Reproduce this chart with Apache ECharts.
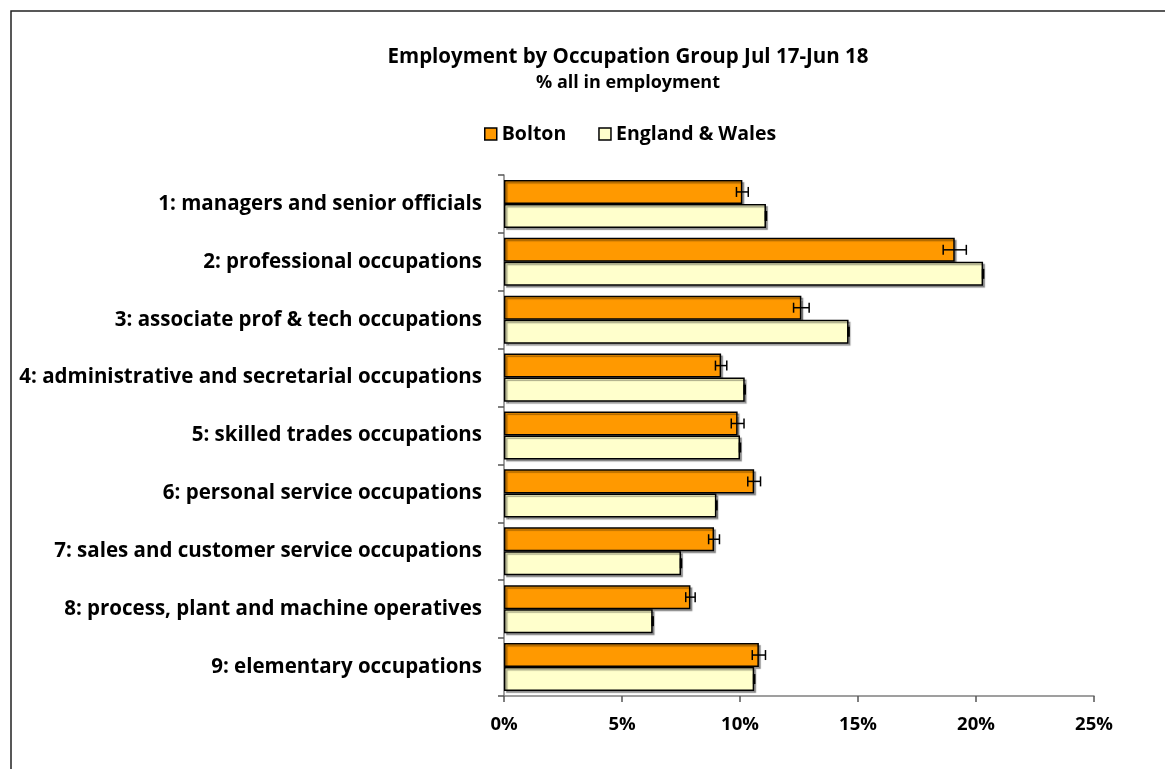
<!DOCTYPE html>
<html>
<head>
<meta charset="utf-8">
<script src="https://cdn.jsdelivr.net/npm/echarts@6/dist/echarts.min.js"></script>
<style>
html, body { margin: 0; padding: 0; background: #fff; }
#main { width: 1165px; height: 769px; }
</style>
</head>
<body>
<div id="main"></div>
<script>
var cats = [
	'1: managers and senior officials',
	'2: professional occupations',
	'3: associate prof & tech occupations',
	'4: administrative and secretarial occupations',
	'5: skilled trades occupations',
	'6: personal service occupations',
	'7: sales and customer service occupations',
	'8: process, plant and machine operatives',
	'9: elementary occupations'
];
var bolton = [10.1, 19.1, 12.6, 9.2, 9.9, 10.6, 8.9, 7.9, 10.8];
var boltonErr = [0.25, 0.49, 0.33, 0.24, 0.27, 0.27, 0.23, 0.2, 0.28];
var england = [11.1, 20.3, 14.6, 10.2, 10.0, 9.0, 7.5, 6.3, 10.6];
var xTicks = ['0%', '5%', '10%', '15%', '20%', '25%'];

var myChart = echarts.init(document.getElementById('main'));
var fnt = 'Open Sans';
var bandGap = 0.17;

//error bar drawing, idx 0 = Bolton (top bar), 1 = England & Wales
function errItem(which) {
	return function(params, api) {
		var v = api.value(1);
		var e = api.value(2);
		var c = api.coord([v, api.value(0)]);
		var band = api.size([0, 1])[1];
		var bw = band * (1 - bandGap) / 2;
		var y = which == 0 ? c[1] - bw / 2 : c[1] + bw / 2;
		var lo = api.coord([v - e, api.value(0)])[0];
		var hi = api.coord([v + e, api.value(0)])[0];
		var h = 5;
		if (which == 1) {
			return {
				type: 'line',
				shape: { x1: c[0], y1: y - 5, x2: c[0], y2: y + 5 },
				style: { stroke: '#000', lineWidth: 2.5 }
			};
		}
		return {
			type: 'group',
			children: [
				{ type: 'line', shape: { x1: lo, y1: y, x2: hi, y2: y }, style: { stroke: '#000', lineWidth: 1.5 } },
				{ type: 'line', shape: { x1: lo, y1: y - h, x2: lo, y2: y + h }, style: { stroke: '#000', lineWidth: 1.5 } },
				{ type: 'line', shape: { x1: hi, y1: y - h, x2: hi, y2: y + h }, style: { stroke: '#000', lineWidth: 1.5 } }
			]
		};
	};
}

var barShadow = {
	borderColor: '#000',
	borderWidth: 1.5,
	shadowColor: 'rgba(0,0,0,0.35)',
	shadowOffsetX: 2,
	shadowOffsetY: 2,
	shadowBlur: 1
};

option = {
	animation: false,
	backgroundColor: '#fff',
	textStyle: { fontFamily: fnt },
	title: {
		text: 'Employment by Occupation Group Jul 17-Jun 18',
		subtext: '% all in employment',
		left: 623,
		textAlign: 'center',
		top: 42,
		itemGap: 6,
		textStyle: { fontFamily: fnt, fontWeight: 'bold', fontSize: 20.5, color: '#000' },
		subtextStyle: { fontFamily: fnt, fontWeight: 'bold', fontSize: 18, color: '#000' }
	},
	legend: {
		top: 119,
		left: 479,
		itemWidth: 12,
		itemHeight: 12,
		itemGap: 32,
		textStyle: { fontFamily: fnt, fontWeight: 'bold', fontSize: 19.5, color: '#000' },
		data: [
			{ name: 'Bolton', icon: 'rect', itemStyle: { color: '#FF9900', borderColor: '#000', borderWidth: 1.5 } },
			{ name: 'England & Wales', icon: 'rect', itemStyle: { color: '#FFFFCC', borderColor: '#000', borderWidth: 1.5 } }
		]
	},
	graphic: [
		{
			type: 'rect',
			shape: { x: 11, y: 11, width: 1170, height: 780 },
			style: { fill: 'none', stroke: '#222', lineWidth: 1.5 },
			z: -1
		}
	],
	grid: {
		left: 504,
		right: 71,
		top: 175,
		bottom: 73,
		containLabel: false
	},
	xAxis: {
		type: 'value',
		min: 0,
		max: 25,
		interval: 5,
		splitLine: { show: false },
		axisLine: { show: true, lineStyle: { color: '#808080', width: 1.5 } },
		axisTick: { show: true, length: 6, lineStyle: { color: '#555', width: 1.5 } },
		axisLabel: {
			margin: 19,
			fontFamily: fnt,
			fontWeight: 'bold',
			fontSize: 18.5,
			color: '#000',
			formatter: function(v) { return xTicks[Math.round(v / 5)]; }
		}
	},
	yAxis: {
		type: 'category',
		inverse: true,
		data: cats,
		axisLine: { show: true, lineStyle: { color: '#808080', width: 1.5 } },
		axisTick: { show: true, length: 6, lineStyle: { color: '#555', width: 1.5 } },
		axisLabel: {
			margin: 22,
			fontFamily: fnt,
			fontWeight: 'bold',
			fontSize: 20.5,
			color: '#000'
		}
	},
	series: [
		{
			name: 'Bolton',
			type: 'bar',
			barGap: '0%',
			barCategoryGap: (bandGap * 100) + '%',
			itemStyle: Object.assign({ color: '#FF9900' }, barShadow),
			data: bolton
		},
		{
			name: 'England & Wales',
			type: 'bar',
			itemStyle: Object.assign({ color: '#FFFFCC' }, barShadow),
			data: england
		},
		{
			name: 'boltonErr',
			type: 'custom',
			renderItem: errItem(0),
			encode: { x: 1, y: 0 },
			z: 5,
			data: cats.map(function(c, i) { return [i, bolton[i], boltonErr[i]]; })
		},
		{
			name: 'englandErr',
			type: 'custom',
			renderItem: errItem(1),
			encode: { x: 1, y: 0 },
			z: 5,
			data: cats.map(function(c, i) { return [i, england[i], 0]; })
		}
	]
};
myChart.setOption(option);
</script>
</body>
</html>
